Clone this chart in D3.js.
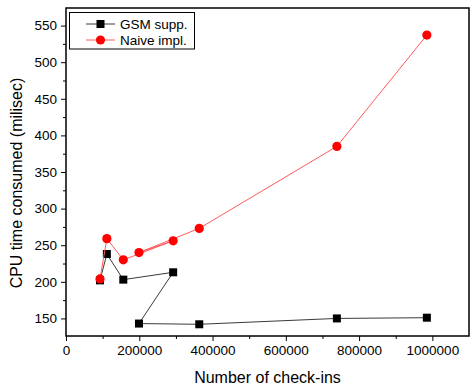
<!DOCTYPE html>
<html>
<head>
<meta charset="utf-8">
<script src="https://cdn.jsdelivr.net/npm/d3@7"></script>
<style>
  body { margin: 0; background: #fff; }
  text { font-family: Arial, "Liberation Sans", sans-serif; }
</style>
</head>
<body>
<svg width="470" height="391"></svg>
<script>
// check-in counts (same x positions for both series, in drawing order)
var checkins = [92800, 111500, 156400, 292500, 199200, 363700, 739400, 985000];
var gsmTimes = [202, 238, 203, 213, 143, 142, 150, 151];
var naiveTimes = [204, 259, 230, 256, 240, 273, 385, 537];

var xTicks = [0, 200000, 400000, 600000, 800000, 1000000];
var yTicks = [150, 200, 250, 300, 350, 400, 450, 500, 550];

var series = [
  { name: "GSM supp.", values: gsmTimes, color: "#000", line: "#3a3a3a", shape: "square" },
  { name: "Naive impl.", values: naiveTimes, color: "#ff0000", line: "#ff5a5a", shape: "circle" }
];

var svg = d3.select("svg"),
  plotLeft = 66, plotRight = 469, plotTop = 8, plotBottom = 336;

var x = d3.scaleLinear().domain([0, 1100000]).range([plotLeft, plotRight]);
var y = d3.scaleLinear().domain([126, 574]).range([plotBottom, plotTop]);

// minor ticks
var xMinor = d3.range(100000, 1100000, 200000);
var yMinor = d3.range(175, 575, 50);

svg.append("g")
  .attr("transform", "translate(0," + plotBottom + ")")
  .call(d3.axisBottom(x).tickValues(xMinor).tickSize(3).tickFormat(""))
  .call(function (g) { g.select(".domain").remove(); });

svg.append("g")
  .attr("transform", "translate(" + plotLeft + ",0)")
  .call(d3.axisLeft(y).tickValues(yMinor).tickSize(3).tickFormat(""))
  .call(function (g) { g.select(".domain").remove(); });

var xAxis = svg.append("g")
  .attr("transform", "translate(0," + plotBottom + ")")
  .call(d3.axisBottom(x).tickValues(xTicks).tickSize(5).tickPadding(4).tickFormat(d3.format("d")));
xAxis.select(".domain").remove();
xAxis.selectAll("text").attr("font-size", 13.5).attr("fill", "#000").attr("font-family", "Arial, 'Liberation Sans', sans-serif");

var yAxis = svg.append("g")
  .attr("transform", "translate(" + plotLeft + ",0)")
  .call(d3.axisLeft(y).tickValues(yTicks).tickSize(5).tickPadding(4));
yAxis.select(".domain").remove();
yAxis.selectAll("text").attr("font-size", 13.5).attr("fill", "#000").attr("font-family", "Arial, 'Liberation Sans', sans-serif");

// frame
svg.append("rect")
  .attr("x", plotLeft).attr("y", plotTop)
  .attr("width", plotRight - plotLeft).attr("height", plotBottom - plotTop)
  .attr("fill", "none").attr("stroke", "#000").attr("stroke-width", 1.5);

var line = d3.line()
  .x(function (d, i) { return x(checkins[i]); })
  .y(function (d) { return y(d); });

function drawMarker(g, shape, color, cx, cy) {
  if (shape === "square") {
    g.append("rect").attr("x", cx - 4).attr("y", cy - 4).attr("width", 8).attr("height", 8).attr("fill", color);
  } else {
    g.append("circle").attr("cx", cx).attr("cy", cy).attr("r", 4.6).attr("fill", color);
  }
}

series.forEach(function (s) {
  svg.append("path")
    .datum(s.values)
    .attr("d", line)
    .attr("fill", "none")
    .attr("stroke", s.line)
    .attr("stroke-width", 1);
  var g = svg.append("g");
  s.values.forEach(function (v, i) {
    drawMarker(g, s.shape, s.color, x(checkins[i]), y(v));
  });
});

// legend
var legend = svg.append("g");
legend.append("rect")
  .attr("x", 69.5).attr("y", 12.5).attr("width", 125).attr("height", 36.5)
  .attr("fill", "#fff").attr("stroke", "#000").attr("stroke-width", 1);
series.forEach(function (s, i) {
  var ly = 24 + i * 16;
  legend.append("line").attr("x1", 86).attr("x2", 115).attr("y1", ly).attr("y2", ly)
    .attr("stroke", s.line).attr("stroke-width", 1);
  drawMarker(legend, s.shape, s.color, 100.5, ly);
  legend.append("text").attr("x", 120).attr("y", ly).attr("dy", "0.35em")
    .attr("font-size", 13.5).text(s.name);
});

// axis titles
svg.append("text")
  .attr("x", (plotLeft + plotRight) / 2).attr("y", 383)
  .attr("text-anchor", "middle").attr("font-size", 16)
  .text("Number of check-ins");

svg.append("text")
  .attr("transform", "translate(22," + 183 + ") rotate(-90)")
  .attr("text-anchor", "middle").attr("font-size", 16)
  .text("CPU time consumed (milisec)");
</script>
</body>
</html>
